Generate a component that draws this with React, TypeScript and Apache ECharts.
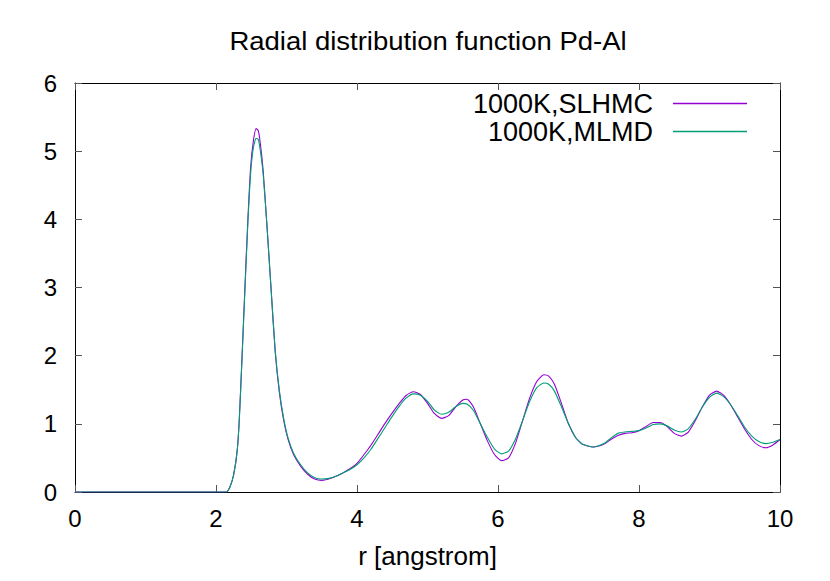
import React, { useEffect, useRef } from "react";
import * as echarts from "echarts";

const titleText = "Radial distribution function Pd-Al";
const xAxisName = "r [angstrom]";
const seriesNames = ["1000K,SLHMC", "1000K,MLMD"];

const rValues = [
  0, 2.1, 2.15, 2.2, 2.25, 2.3, 2.33, 2.37, 2.41, 2.45, 2.49, 2.53, 2.57, 2.6, 2.63, 2.67, 2.72, 2.78,
  2.84, 2.9, 2.96, 3.02, 3.1, 3.2, 3.3, 3.4, 3.5, 3.6, 3.7, 3.8, 3.9, 4.0, 4.1, 4.2, 4.3, 4.4, 4.5,
  4.6, 4.7, 4.8, 4.9, 5.0, 5.1, 5.2, 5.3, 5.4, 5.5, 5.56, 5.65, 5.75, 5.85, 5.95, 6.05, 6.15, 6.25,
  6.35, 6.45, 6.55, 6.65, 6.72, 6.8, 6.9, 7.0, 7.1, 7.2, 7.35, 7.5, 7.6, 7.7, 7.8, 7.9, 8.0, 8.1, 8.2,
  8.3, 8.4, 8.5, 8.6, 8.7, 8.8, 8.9, 9.0, 9.1, 9.2, 9.3, 9.4, 9.5, 9.6, 9.7, 9.8, 9.9, 10.0,
];

const slhmc = [
  0, 0, 0, 0.08, 0.25, 0.6, 1.06, 2.0, 3.0, 3.95, 4.75, 5.15, 5.33, 5.3, 5.1, 4.7, 3.95, 3.0,
  2.05, 1.45, 1.05, 0.78, 0.55, 0.38, 0.26, 0.19, 0.17, 0.19, 0.23, 0.28, 0.34, 0.42, 0.55, 0.69, 0.85, 1.01, 1.16,
  1.3, 1.42, 1.47, 1.43, 1.3, 1.15, 1.08, 1.12, 1.25, 1.35, 1.36, 1.25, 1.0, 0.75, 0.55, 0.46, 0.5, 0.72,
  1.05, 1.38, 1.62, 1.72, 1.7, 1.58, 1.3, 1.0, 0.8, 0.7, 0.66, 0.7, 0.77, 0.83, 0.86, 0.87, 0.9, 0.96, 1.02,
  1.02, 0.96, 0.86, 0.82, 0.88, 1.05, 1.25, 1.42, 1.48, 1.42, 1.28, 1.1, 0.92, 0.77, 0.68, 0.65, 0.69, 0.77,
];

const mlmd = [
  0, 0, 0, 0.08, 0.25, 0.6, 1.05, 1.98, 2.95, 3.9, 4.65, 5.05, 5.19, 5.17, 5.0, 4.65, 3.95, 3.0,
  2.08, 1.48, 1.08, 0.8, 0.57, 0.4, 0.28, 0.21, 0.19, 0.2, 0.23, 0.28, 0.33, 0.4, 0.5, 0.63, 0.79, 0.95, 1.11,
  1.26, 1.38, 1.44, 1.42, 1.33, 1.2, 1.14, 1.17, 1.25, 1.3, 1.29, 1.2, 1.0, 0.8, 0.63, 0.56, 0.6, 0.78,
  1.05, 1.33, 1.53, 1.6, 1.58, 1.48, 1.25, 1.0, 0.8, 0.7, 0.66, 0.71, 0.79, 0.86, 0.88, 0.89, 0.9, 0.94, 0.99,
  1.0, 0.97, 0.91, 0.88, 0.93, 1.07, 1.25, 1.39, 1.45, 1.4, 1.28, 1.12, 0.95, 0.82, 0.74, 0.71, 0.73, 0.77,
];

const FONT = "'Liberation Sans', Arial, Helvetica, sans-serif";
const colors = ["#9400d3", "#009e73"];

export default function App() {
  const ref = useRef<HTMLDivElement>(null);
  useEffect(() => {
    if (!ref.current) return;
    const chart = echarts.init(ref.current, null, { renderer: "svg" });
    const axisLine = { show: true, onZero: false, lineStyle: { color: "#000", width: 1 } };
    const tick = { show: true, inside: true, length: 7, lineStyle: { color: "#555", width: 1 } };
    const series = [slhmc, mlmd].map((vals, i) => ({
      name: seriesNames[i],
      type: "line",
      data: rValues.map((r, j) => [r, vals[j]]),
      showSymbol: false,
      smooth: 0.2,
      lineStyle: { color: colors[i], width: 1.1 },
      itemStyle: { color: colors[i] },
      xAxisIndex: 0,
      yAxisIndex: 0,
      z: 2 + i,
    }));
    chart.setOption({
      animation: false,
      backgroundColor: "#fff",
      textStyle: { fontFamily: FONT },
      grid: { left: 75, right: 50, top: 83, bottom: 89, containLabel: false },
      graphic: [
        {
          type: "text",
          x: 428,
          y: 41,
          scaleX: 1.1,
          style: {
            text: titleText,
            textAlign: "center",
            textVerticalAlign: "middle",
            font: `25px ${FONT}`,
            fill: "#000",
          },
        },
      ],
      legend: seriesNames.map((n, i) => ({
        data: [{ name: n, icon: "rect" }],
        right: 83,
        top: 90 + i * 28,
        align: "right",
        orient: "vertical",
        itemWidth: 74,
        itemHeight: 1.5,
        padding: 0,
        selectedMode: false,
        textStyle: {
          fontFamily: FONT,
          fontSize: 27,
          color: "#000",
          lineHeight: 26,
          padding: [0, 15, 0, 0],
        },
      })),
      xAxis: [
        {
          type: "value",
          min: 0,
          max: 10,
          interval: 2,
          position: "bottom",
          axisLine,
          axisTick: tick,
          splitLine: { show: false },
          axisLabel: { fontSize: 24, color: "#000", margin: 14, fontFamily: FONT },
          name: xAxisName,
          nameLocation: "middle",
          nameGap: 51,
          nameTextStyle: { fontSize: 26, color: "#000", fontFamily: FONT },
        },
        {
          type: "value",
          min: 0,
          max: 10,
          interval: 2,
          position: "top",
          axisLine,
          axisTick: tick,
          splitLine: { show: false },
          axisLabel: { show: false },
        },
      ],
      yAxis: [
        {
          type: "value",
          min: 0,
          max: 6,
          interval: 1,
          position: "left",
          axisLine,
          axisTick: tick,
          splitLine: { show: false },
          axisLabel: { fontSize: 24, color: "#000", margin: 18, fontFamily: FONT },
        },
        {
          type: "value",
          min: 0,
          max: 6,
          interval: 1,
          position: "right",
          axisLine,
          axisTick: tick,
          splitLine: { show: false },
          axisLabel: { show: false },
        },
      ],
      series,
    });
    return () => chart.dispose();
  }, []);
  return (
    <div
      ref={ref}
      style={{ position: "fixed", left: 0, top: 0, width: 830, height: 581 }}
    />
  );
}
